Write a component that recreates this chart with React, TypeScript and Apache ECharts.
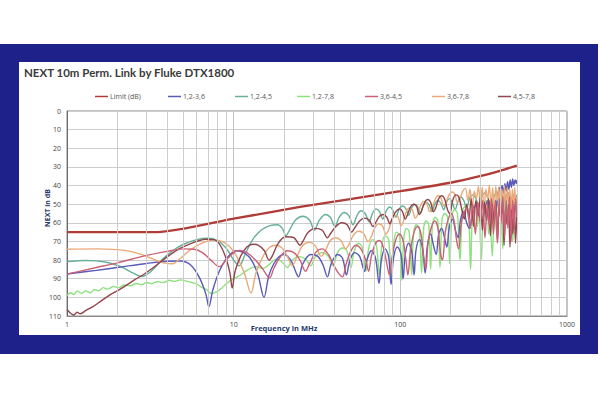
import React, { useEffect, useRef } from "react";
import * as echarts from "echarts";

const TITLE = "NEXT 10m Perm. Link by Fluke DTX1800";
const X_NAME = "Frequency in MHz";
const Y_NAME = "NEXT in dB";

const seriesNames = ["Limit (dB)", "1,2-3,6", "1,2-4,5", "1,2-7,8", "3,6-4,5", "3,6-7,8", "4,5-7,8"];
const seriesColors = ["#b03c38", "#5a5ab8", "#66b096", "#8ee27e", "#cc6076", "#eba978", "#92454c"];

const minorGridFreqs = [2, 3, 4, 5, 6, 7, 8, 9, 20, 30, 40, 50, 60, 70, 80, 90, 200, 300, 400, 500, 600, 700, 800, 900];

const limitData: [number, number][] = [
  [1, 65], [3.5, 65], [10, 57.8], [25, 51.5], [100, 43], [200, 38.5], [300, 35], [400, 32], [500, 29.3],
];

const pair12_36: [number, number][] = [
  [1, 87.5], [1.5, 85.5], [2, 84], [3, 81.8], [4, 80.6], [4.8, 80.5], [5.5, 82.5], [6.2, 89], [6.8, 98], [7.1, 105],
  [7.5, 96], [8.2, 86], [9.2, 78.5], [10.4, 75], [11.5, 76], [12.8, 80], [14, 88], [15.2, 100], [16.3, 88], [18, 80],
  [20, 77], [22, 80], [23.5, 86], [24.5, 89], [26, 82], [29, 77], [32, 78], [34.5, 83], [36.5, 89], [38.5, 82],
  [42, 77], [45, 79], [47.5, 88], [49.5, 81], [53, 76], [57, 78], [61, 86], [63, 80], [67, 75], [71, 79],
  [74.5, 92.5], [77, 80], [81, 74], [85, 78], [88, 93], [91, 79], [96, 73], [101, 77], [104, 90], [107, 77],
  [112, 71], [117, 75], [121, 88], [124, 75], [130, 69], [136, 74], [141, 87], [145, 73], [152, 66], [158, 72],
  [164, 77], [170, 66], [177, 63], [184, 68], [190, 73], [197, 62], [206, 58], [214, 64], [222, 68], [230, 58],
  [240, 54], [250, 60], [260, 63], [272, 54], [284, 51], [296, 56], [310, 59], [324, 51], [338, 48], [352, 53],
  [368, 56], [384, 46], [392, 41], [400, 45], [408, 40], [416, 44], [424, 39], [432, 43], [440, 38], [448, 42],
  [456, 37], [464, 41], [472, 36.5], [480, 40], [488, 37], [496, 39], [500, 37],
];

const pair12_45: [number, number][] = [
  [1, 80.8], [1.3, 80.2], [1.7, 81], [2.1, 83.5], [2.5, 87], [2.8, 88.8], [3.2, 86], [3.7, 80], [4.3, 75], [5, 71.5],
  [6, 69], [7, 68.3], [8, 69.5], [9, 73.5], [10, 80], [10.8, 83], [11.7, 77], [13, 69], [14.6, 64], [16.5, 61.5],
  [18.3, 61], [19.6, 63], [20.6, 67], [21.6, 64], [23.5, 58.5], [26, 56.5], [28.5, 58.5], [30.5, 64], [32.5, 59], [35.5, 55.5],
  [38, 57], [40.5, 62], [43, 57], [46, 54.5], [49, 56], [52, 61], [55, 56], [58, 53.5], [61.5, 55], [65, 59.5],
  [68, 55], [71.5, 52.5], [75, 54], [78.5, 58], [82, 54], [86, 51.5], [90, 53], [94, 57], [98, 53], [103, 51],
  [108, 52.5], [112, 56], [117, 52], [122, 50], [127, 51.5], [132, 55], [137, 51], [143, 49], [149, 50.5], [155, 54],
  [161, 50], [168, 48], [175, 49.5], [182, 53], [189, 49], [197, 47], [205, 49], [213, 53], [221, 49], [230, 46],
  [240, 48], [250, 52], [260, 47], [272, 45], [284, 47], [296, 51], [308, 46], [322, 44], [336, 47], [350, 52],
  [364, 46], [380, 44], [396, 46], [412, 51], [428, 46], [446, 44], [464, 47], [482, 50], [500, 45],
];

const pair12_78: [number, number][] = [
  [1, 99], [1.05, 97.5], [1.1, 98.5], [1.15, 96.5], [1.22, 97.8], [1.3, 96.5], [1.38, 97.5], [1.46, 95.8], [1.55, 96.5], [1.65, 94.8],
  [1.75, 95.6], [1.9, 94.2], [2.05, 94.8], [2.2, 93.4], [2.4, 93.8], [2.6, 92.6], [2.8, 93.2], [3, 92], [3.2, 92.6], [3.5, 91.6],
  [3.8, 92], [4.1, 90.8], [4.4, 91.4], [4.8, 90.6], [5.2, 91.3], [5.6, 92], [6, 92.8], [6.4, 94.5], [6.9, 96], [7.4, 98],
  [7.9, 97], [8.5, 95], [9.2, 92], [10, 90], [11, 88], [12, 85.5], [13.5, 83.5], [15, 84.5], [16.5, 82], [18, 79.5],
  [19.5, 81], [21, 84], [22.5, 80], [24.5, 78], [27, 79.5], [29, 83], [31, 78], [34, 76], [37, 78], [39.5, 83],
  [42, 76], [45, 73.5], [48, 75.5], [50.5, 84], [53, 75], [56, 71], [59, 73], [62, 86], [64.5, 74], [68, 69],
  [71.5, 71], [75, 88], [77.5, 72], [81, 67], [85, 69], [88.5, 90], [91.5, 70], [95, 65], [99, 67], [102, 91],
  [105, 68], [109, 63], [113, 65], [117, 88], [120, 66], [125, 61], [130, 63], [134, 87], [138, 63], [143, 59],
  [148, 61], [152, 85], [156, 61], [162, 57], [168, 59], [173, 84], [178, 58], [185, 55], [192, 57], [198, 82],
  [204, 56], [212, 53], [220, 55], [228, 80], [236, 54], [246, 51], [256, 53], [264, 85], [272, 52], [284, 50],
  [290, 62], [296, 52], [306, 80], [316, 50], [330, 48], [338, 66], [344, 50], [356, 78], [368, 49], [376, 64],
  [384, 47], [400, 50], [412, 74], [424, 48], [432, 60], [442, 46], [460, 49], [472, 70], [484, 48], [500, 47],
];

const pair36_45: [number, number][] = [
  [1, 87.5], [1.5, 84], [2, 81.5], [3, 77.5], [4, 75.3], [5, 74], [5.8, 74.2], [6.5, 76], [7.3, 80], [8.2, 83.5],
  [9, 80], [10, 76], [10.8, 74.8], [12, 76], [13.5, 80], [15, 85], [16.4, 89.5], [17.5, 84], [19, 78.5], [21, 75],
  [23, 76], [25, 80], [27, 86], [28.5, 82], [31, 76], [34, 74], [37, 77], [40, 83], [42.5, 87], [45, 89],
  [47, 83], [50, 76], [54, 72], [58, 74], [62, 80], [64.5, 86], [67, 78], [71, 71], [75, 69.5], [79, 73],
  [83, 82], [86, 88], [89, 79], [94, 69], [99, 66], [104, 70], [108, 80], [111, 88], [115, 75], [121, 65],
  [127, 62], [133, 66], [138, 78], [142, 85], [147, 70], [154, 62], [161, 59], [168, 63], [174, 76], [179, 80],
  [186, 65], [194, 58], [202, 55], [210, 59], [218, 70], [224, 74], [232, 60], [242, 54], [252, 52], [262, 63],
  [272, 50], [282, 66], [292, 49], [302, 60], [312, 48], [322, 68], [332, 50], [342, 62], [352, 47], [362, 66],
  [372, 49], [382, 71], [392, 47], [402, 60], [412, 46], [422, 68], [432, 48], [442, 63], [452, 46], [462, 70],
  [472, 48], [482, 62], [492, 47], [500, 57],
];

const pair36_78: [number, number][] = [
  [1, 74.2], [1.5, 74], [2, 74.4], [2.4, 75.3], [2.85, 77.2], [3.3, 79.5], [3.8, 81.5], [4.3, 82], [4.8, 79], [5.5, 74.5],
  [6.5, 70.8], [7.5, 69.2], [8.5, 70], [9.5, 73], [10.5, 78.5], [11.6, 87], [12.7, 97.7], [13.6, 87], [15, 78], [16.5, 73],
  [18, 72], [19.5, 73.5], [21, 78], [22.5, 83], [24, 78], [26, 72], [28.5, 70.5], [31, 72.5], [33.5, 78], [35.5, 75],
  [38, 69.5], [41, 68], [44, 69.5], [47, 74], [49, 72], [52, 67], [56, 64.5], [60, 65.5], [64, 70], [66.5, 68],
  [70, 63], [74, 60.5], [78, 61.5], [82, 66], [85, 64], [89, 58.5], [93, 56], [97, 57], [101, 61.5], [104, 59.5],
  [108, 54.5], [113, 52], [118, 53], [123, 57.5], [127, 55.5], [132, 51], [138, 48.5], [144, 49.5], [150, 54], [155, 52],
  [161, 48], [168, 45.5], [175, 46.5], [182, 51], [188, 49], [196, 45], [204, 43.5], [212, 44.5], [220, 49], [228, 47],
  [237, 43], [246, 41.5], [254, 48], [262, 42], [270, 52], [278, 43], [286, 47], [294, 40.5], [302, 50], [310, 41],
  [318, 54], [326, 42], [334, 47], [342, 40], [350, 52], [358, 41], [366, 56], [374, 40.5], [382, 48], [390, 41],
  [398, 55], [406, 42], [414, 50], [422, 40], [430, 57], [438, 41], [446, 49], [454, 42], [462, 58], [470, 42],
  [478, 50], [486, 41], [494, 55], [500, 46],
];

const pair45_78: [number, number][] = [
  [1, 106.5], [1.05, 108.5], [1.1, 109.5], [1.15, 108], [1.2, 108.8], [1.3, 107], [1.43, 105], [1.6, 102], [1.81, 98.7], [2.05, 96],
  [2.29, 93.3], [2.55, 90.5], [2.85, 88], [3.3, 84], [3.7, 80.5], [4.14, 77.2], [4.7, 74], [5.3, 71.8], [6, 70], [6.8, 68.8],
  [7.6, 69], [8.3, 72], [9, 79], [9.5, 87], [9.8, 95], [10.2, 86], [11, 78], [12, 73], [13, 71.5], [14, 72],
  [15.3, 75], [16.3, 80], [17, 78], [18.5, 71], [20.5, 67.5], [23, 68], [25, 72], [26, 70], [28, 65], [31, 63],
  [34, 64], [36.5, 68], [38, 66], [41, 62], [44.5, 60], [48, 61], [51, 65], [53, 63], [57, 59], [61, 57.5],
  [65, 58.5], [68.5, 62], [71, 60], [75, 56.5], [79, 55.5], [83, 57], [86.5, 60.5], [89, 58], [94, 54], [99, 52.5],
  [103, 54], [107, 58], [110, 56], [115, 51.5], [120, 50], [125, 51], [130, 55.5], [134, 53.5], [140, 49], [146, 47.5],
  [152, 49], [158, 54], [163, 52], [170, 47], [177, 45.5], [184, 47], [192, 53], [198, 55], [206, 48], [215, 45],
  [224, 46], [234, 53], [242, 58], [250, 50], [258, 58], [266, 47], [275, 62], [284, 48], [293, 56], [302, 46],
  [311, 64], [320, 49], [329, 59], [338, 47], [347, 67], [356, 50], [365, 60], [374, 48], [383, 70], [392, 51],
  [401, 58], [410, 49], [419, 72], [428, 52], [437, 61], [446, 50], [455, 73], [464, 53], [473, 66], [482, 50],
  [491, 71], [500, 55],
];

const curveData: Record<string, [number, number][]> = {
  "1,2-3,6": pair12_36,
  "1,2-4,5": pair12_45,
  "1,2-7,8": pair12_78,
  "3,6-4,5": pair36_45,
  "3,6-7,8": pair36_78,
  "4,5-7,8": pair45_78,
};

const drawOrder = ["1,2-4,5", "1,2-7,8", "1,2-3,6", "3,6-7,8", "4,5-7,8", "3,6-4,5"];
const legendLeft = [95, 168, 235, 297, 365, 432, 498];

export default function App() {
  const ref = useRef<HTMLDivElement>(null);
  useEffect(() => {
    if (!ref.current) return;
    const chart = echarts.init(ref.current, null, { renderer: "svg" });
    const colorOf = (n: string) => seriesColors[seriesNames.indexOf(n)];
    const series: any[] = [
      {
        type: "line",
        name: "__grid",
        data: [],
        z: 1,
        silent: true,
        markLine: {
          silent: true,
          symbol: "none",
          label: { show: false },
          lineStyle: { color: "#cdcdcd", type: "solid", width: 1 },
          data: minorGridFreqs.map((f) => ({ xAxis: f })),
        },
      },
    ];
    drawOrder.forEach((n) => {
      series.push({
        type: "line",
        name: n,
        data: curveData[n],
        showSymbol: false,
        symbol: "none",
        smooth: 0.35,
        lineStyle: { width: 1.4, color: colorOf(n) },
        itemStyle: { color: colorOf(n) },
        z: 3,
      });
    });
    series.push({
      type: "line",
      name: seriesNames[0],
      data: limitData,
      showSymbol: false,
      symbol: "none",
      smooth: 0.2,
      lineStyle: { width: 2.3, color: seriesColors[0] },
      itemStyle: { color: seriesColors[0] },
      z: 4,
    });

    chart.setOption({
      animation: false,
      grid: {
        left: 67,
        top: 111,
        right: 33,
        bottom: 84,
        show: true,
        borderColor: "#8a8a8a",
        borderWidth: 1,
        backgroundColor: "transparent",
      },
      legend: seriesNames.map((n, i) => ({
        data: [n],
        left: legendLeft[i],
        top: 93,
        icon: "rect",
        itemWidth: 13,
        itemHeight: 1.5,
        itemGap: 0,
        padding: 0,
        selectedMode: false,
        textStyle: { fontSize: 7, color: "#555", padding: [0, 0, 0, -3], fontFamily: "Open Sans" },
      })),
      xAxis: {
        type: "log",
        logBase: 10,
        min: 1,
        max: 1000,
        axisLine: { show: true, onZero: false, lineStyle: { color: "#8a8a8a" } },
        axisTick: { show: false },
        axisLabel: {
          fontSize: 7,
          color: "#444",
          margin: 5,
          fontFamily: "Open Sans",
          formatter: (v: number) => String(Math.round(v)),
        },
        splitLine: { show: true, lineStyle: { color: "#c4c4c4", width: 1 } },
      },
      yAxis: {
        type: "value",
        inverse: true,
        min: 0,
        max: 110,
        interval: 10,
        axisLine: { show: true, lineStyle: { color: "#6a6a6a" } },
        axisTick: { show: false },
        axisLabel: { fontSize: 7, color: "#444", margin: 6, fontFamily: "Open Sans" },
        splitLine: { show: true, lineStyle: { color: "#cdcdcd", width: 1 } },
      },
      graphic: [
        {
          type: "text",
          left: 24,
          top: 66,
          style: { text: TITLE, fontSize: 11.5, fontWeight: "bold", fill: "#3b3b3b", fontFamily: "Lato" },
        },
        {
          type: "text",
          x: 47,
          y: 208,
          rotation: Math.PI / 2,
          style: {
            text: Y_NAME,
            align: "center",
            verticalAlign: "middle",
            fontSize: 7,
            fontWeight: "bold",
            fill: "#1f3a6e",
            fontFamily: "Open Sans",
          },
        },
        {
          type: "text",
          x: 284,
          y: 328,
          style: {
            text: X_NAME,
            align: "center",
            verticalAlign: "middle",
            fontSize: 7.5,
            fontWeight: "bold",
            fill: "#1f3a6e",
            fontFamily: "Open Sans",
          },
        },
      ],
      series,
    });
    return () => chart.dispose();
  }, []);

  return (
    <div style={{ position: "fixed", left: 0, top: 0, width: 600, height: 400, background: "#ffffff", overflow: "hidden" }}>
      <div style={{ position: "absolute", left: 0, top: 44, width: 598, height: 310, background: "#1e2189" }} />
      <div style={{ position: "absolute", left: 19, top: 62, width: 561, height: 273, background: "#ffffff" }} />
      <div ref={ref} style={{ position: "absolute", left: 0, top: 0, width: 600, height: 400 }} />
    </div>
  );
}
